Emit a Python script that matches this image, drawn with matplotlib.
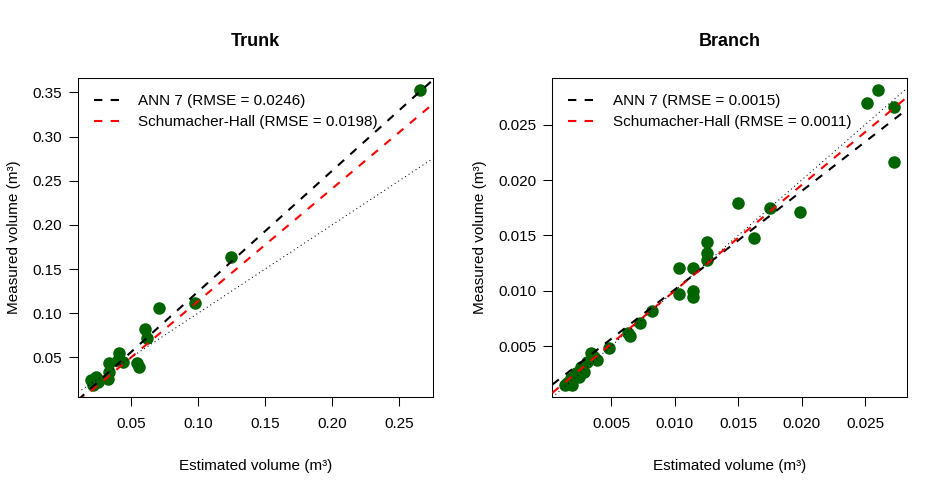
import numpy as np
import matplotlib
matplotlib.use("Agg")
import matplotlib.pyplot as plt

plt.rcParams['font.family'] = ['Liberation Sans', 'DejaVu Sans']

# Trunk: estimated vs measured volume (m3)
trunk_est = [0.0203, 0.0215, 0.0240, 0.0253, 0.0327, 0.0334, 0.0339, 0.0401, 0.0409,
             0.0438, 0.0545, 0.0560, 0.0606, 0.0619, 0.0706, 0.0978, 0.1243, 0.2655]
trunk_meas = [0.0242, 0.0185, 0.0280, 0.0223, 0.0260, 0.0432, 0.0336, 0.0470, 0.0552,
              0.0450, 0.0437, 0.0395, 0.0818, 0.0716, 0.1057, 0.1120, 0.1636, 0.3530]

# Branch: estimated vs measured volume (m3)
branch_est = [0.00140, 0.00155, 0.00181, 0.00195, 0.00221, 0.00248, 0.00260, 0.00287,
              0.00313, 0.00339, 0.00366, 0.00392, 0.00484, 0.00629, 0.00650, 0.00729,
              0.00823, 0.01033, 0.01033, 0.01144, 0.01144, 0.01144, 0.01254, 0.01254,
              0.01254, 0.01498, 0.01622, 0.01754, 0.01985, 0.02516, 0.02603, 0.02729,
              0.02729]
branch_meas = [0.00150, 0.00163, 0.00208, 0.00147, 0.00253, 0.00222, 0.00313, 0.00268,
               0.00358, 0.00434, 0.00403, 0.00373, 0.00479, 0.00620, 0.00595, 0.00705,
               0.00819, 0.01203, 0.00970, 0.01203, 0.01000, 0.00946, 0.01443, 0.01338,
               0.01278, 0.01790, 0.01474, 0.01750, 0.01712, 0.02694, 0.02815, 0.02658,
               0.02166]

# fitted lines (intercept, slope)
trunk_ann = (-0.0125, 1.369)
trunk_sh = (-0.0139, 1.275)
branch_ann = (0.00120, 0.890)
branch_sh = (0.00043, 0.956)

trunk_labels = ['ANN 7 (RMSE = 0.0246)', 'Schumacher-Hall (RMSE = 0.0198)']
branch_labels = ['ANN 7 (RMSE = 0.0015)', 'Schumacher-Hall (RMSE = 0.0011)']

trunk_xticks = [0.05, 0.10, 0.15, 0.20, 0.25]
trunk_yticks = [0.05, 0.10, 0.15, 0.20, 0.25, 0.30, 0.35]
branch_xticks = [0.005, 0.010, 0.015, 0.020, 0.025]
branch_yticks = [0.005, 0.010, 0.015, 0.020, 0.025]

fig = plt.figure(figsize=(9.48, 4.95), dpi=100)
ax1 = fig.add_axes([0.0823, 0.198, 0.3745, 0.6444])
ax2 = fig.add_axes([0.5826, 0.198, 0.3745, 0.6444])


def panel(ax, est, meas, ann, sh, labels, xt, yt, xfmt, title):
    est = np.array(est)
    meas = np.array(meas)
    rx = est.max() - est.min()
    ry = meas.max() - meas.min()
    xlim = (est.min() - 0.04 * rx, est.max() + 0.04 * rx)
    ylim = (meas.min() - 0.04 * ry, meas.max() + 0.04 * ry)
    ax.plot(est, meas, 'o', color='#006400', markersize=8, zorder=2)
    xs = np.array(xlim)
    ax.plot(xs, ann[0] + ann[1] * xs, color='black', lw=1.5, dashes=(4, 4), zorder=3, label=labels[0])
    ax.plot(xs, sh[0] + sh[1] * xs, color='red', lw=1.5, dashes=(4, 4), zorder=3, label=labels[1])
    ax.plot(xs, xs, color='black', lw=0.75, dashes=(1, 3), zorder=3)
    ax.set_xlim(xlim)
    ax.set_ylim(ylim)
    ax.set_xticks(xt)
    ax.set_xticklabels([xfmt % v for v in xt])
    ax.set_yticks(yt)
    ax.set_yticklabels([xfmt % v for v in yt])
    ax.tick_params(length=6.5, width=0.75, labelsize=11, color='black')
    ax.tick_params(axis='x', pad=8)
    ax.tick_params(axis='y', pad=5)
    for s in ax.spines.values():
        s.set_linewidth(0.75)
    ax.set_xlabel('Estimated volume (m³)', fontsize=11, labelpad=20)
    ax.set_ylabel('Measured volume (m³)', fontsize=11, labelpad=8)
    ax.set_title(title, fontsize=13, fontweight='bold', pad=23)
    ax.legend(loc='upper left', frameon=False, fontsize=11, handlelength=1.7,
              handletextpad=1.2, borderaxespad=0.65, labelspacing=0.45)


panel(ax1, trunk_est, trunk_meas, trunk_ann, trunk_sh, trunk_labels,
      trunk_xticks, trunk_yticks, '%.2f', 'Trunk')
panel(ax2, branch_est, branch_meas, branch_ann, branch_sh, branch_labels,
      branch_xticks, branch_yticks, '%.3f', 'Branch')

fig.savefig('out.png', dpi=100)
